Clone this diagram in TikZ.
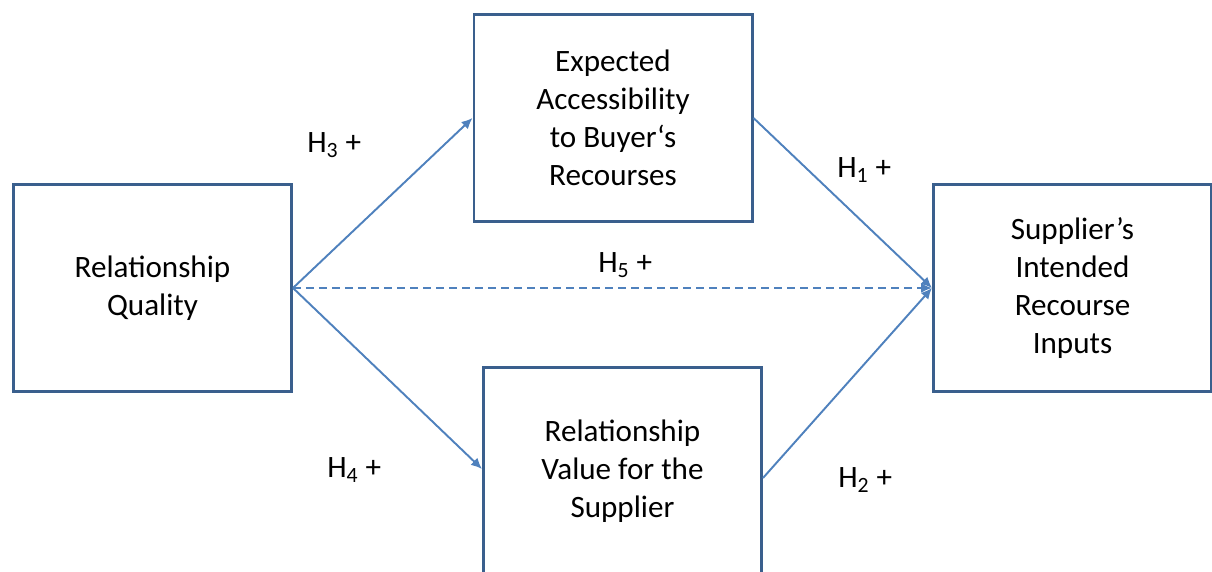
\documentclass[tikz,border=0pt]{standalone}
\usepackage{fontspec}
\setmainfont{Carlito}
\usepackage{tikz}
\usetikzlibrary{arrows.meta, positioning, calc}

\definecolor{boxblue}{HTML}{3A5F8D}
\definecolor{lineblue}{HTML}{4F81BD}

\begin{document}
\begin{tikzpicture}[
    cell/.style={draw=boxblue, line width=1.7pt, minimum width=5.56cm, minimum height=4.14cm,
        align=center, font=\fontsize{17.7}{21.6}\selectfont},
    arrow/.style={-{Latex[length=0.22cm,width=0.2cm]}, draw=lineblue, line width=1.1pt},
    hypdash/.style={arrow, line width=1.4pt, dash pattern=on 0.16cm off 0.1cm},
    lbl/.style={anchor=base west, inner sep=0pt, font=\fontsize{17.7}{21.6}\selectfont}
]
    \useasboundingbox (0,0) rectangle (24.24,-11.44);
    \node[cell] (rq) at (3.05,-5.76) {Relationship\\Quality};
    \node[cell] (eab) at (12.26,-2.36) {Expected\\Accessibility\\to Buyer‘s\\Recourses};
    \node[cell] (rvs) at (12.45,-9.42) {Relationship\\Value for the\\Supplier};
    \node[cell] (sir) at (21.45,-5.76) {Supplier’s\\Intended\\Recourse\\Inputs};
    \draw[arrow] (rq.east) -- (eab.west);
    \draw[arrow] (rq.east) -- ($(rvs.west)+(0,0.04)$);
    \draw[arrow] (eab.east) -- (sir.west);
    \draw[arrow] ($(rvs.east)+(0,-0.14)$) -- (sir.west);
    \draw[hypdash] (rq.east) -- (sir.west);
    \node[lbl] (h3) at (6.14,-3.06) {H\textsubscript{3} +};
    \node[lbl] (h4) at (6.54,-9.56) {H\textsubscript{4} +};
    \node[lbl] (h1) at (16.74,-3.56) {H\textsubscript{1} +};
    \node[lbl] (h2) at (16.76,-9.76) {H\textsubscript{2} +};
    \node[lbl] (h5) at (11.96,-5.46) {H\textsubscript{5} +};
\end{tikzpicture}
\end{document}
